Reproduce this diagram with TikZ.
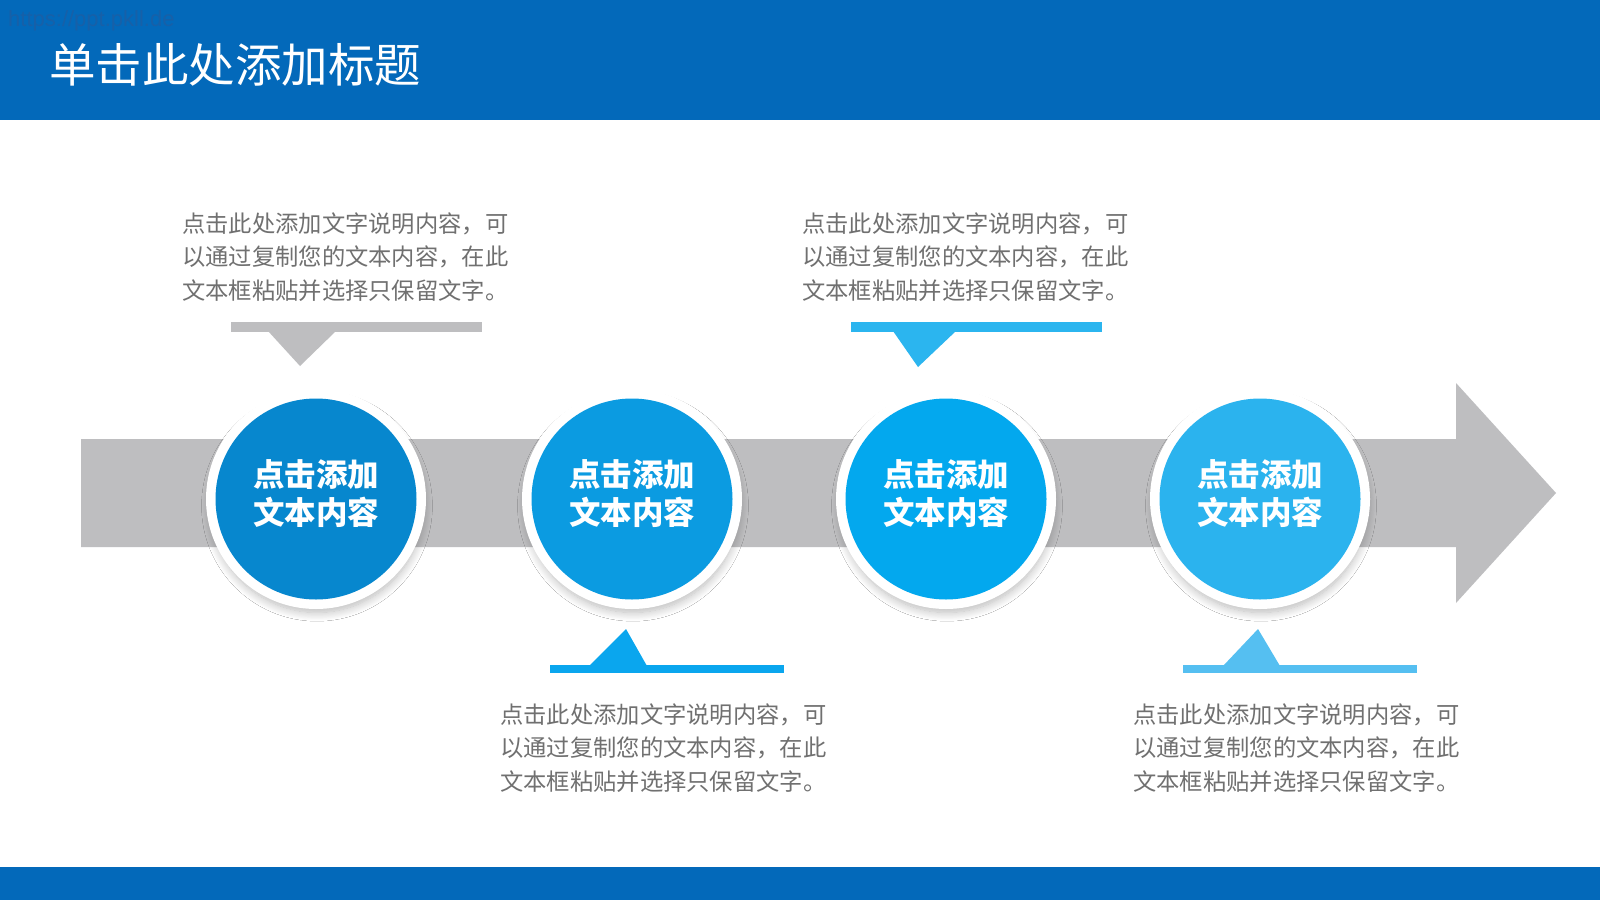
\documentclass[tikz,border=0pt]{standalone}
\usepackage{fontspec}
\setmainfont{Noto Sans CJK SC}
\newfontfamily\cjk{Noto Sans CJK SC}
\newfontfamily\latinsans{Liberation Sans}
\usetikzlibrary{shadows.blur}
\definecolor{headblue}{HTML}{0369BA}
\definecolor{markblue}{HTML}{1760A8}
\definecolor{arrowgray}{HTML}{BEBEC0}
\definecolor{barblueA}{HTML}{0AA6EE}
\definecolor{barblueB}{HTML}{2BB5EF}
\definecolor{barblueC}{HTML}{55BFF1}
\definecolor{discA}{HTML}{0787CE}
\definecolor{discB}{HTML}{0B9BE1}
\definecolor{discC}{HTML}{03A8EE}
\definecolor{discD}{HTML}{2BB3EE}
\definecolor{descgray}{HTML}{707070}
\tikzset{
  ring/.style={circle, minimum size=220pt, inner sep=0pt, fill=white,
    blur shadow={shadow xshift=1pt, shadow yshift=-7pt, shadow scale=0.97, shadow blur radius=9pt, shadow blur steps=12, shadow opacity=28}},
  disc/.style={circle, minimum size=201pt, inner sep=0pt},
  disctext/.style={font=\cjk\bfseries\fontsize{31.5}{38}\selectfont, text=white, align=center, inner sep=0pt},
  desc/.style={font=\cjk\fontsize{23.3}{33.7}\selectfont, text=descgray, align=left, inner sep=0pt, anchor=base west},
}
\begin{document}
\begin{tikzpicture}[x=1pt,y=-1pt]
\useasboundingbox (0,0) rectangle (1600,900);
\fill[white] (0,0) rectangle (1600,900);
% header and footer bands
\fill[headblue] (0,0) rectangle (1600,120);
\fill[headblue] (0,867) rectangle (1600,900);
\node[anchor=west, inner sep=0pt, text=markblue, font=\latinsans\fontsize{22}{26}\selectfont] (mark) at (8,21) {https://ppt.pkll.de};
\node[anchor=west, inner sep=0pt, text=white, font=\cjk\fontsize{46.5}{56}\selectfont] (title) at (49,65) {单击此处添加标题};
% gray arrow
\fill[arrowgray] (81,439) -- (1456,439) -- (1456,383) -- (1556,493) -- (1456,603) -- (1456,547) -- (81,547) -- cycle;
% callouts
\fill[arrowgray] (231,322) rectangle (482,332);
\fill[arrowgray] (268,331) -- (336,331) -- (300,366) -- cycle;
\fill[barblueB] (851,322) rectangle (1102,332);
\fill[barblueB] (893,331) -- (956,331) -- (918,367) -- cycle;
\fill[barblueA] (550,665) rectangle (784,673);
\fill[barblueA] (589,666) -- (647,666) -- (626,629) -- cycle;
\fill[barblueC] (1183,665) rectangle (1417,673);
\fill[barblueC] (1223,666) -- (1280,666) -- (1258,629) -- cycle;
% circles
\foreach \i/\x/\c in {1/316/discA, 2/632/discB, 3/946/discC, 4/1260/discD}{
  \node[ring] (ring\i) at (\x,499) {};
  \node[disc, fill=\c] (disc\i) at (ring\i) {};
  \node[disctext] (label\i) at (\x,494) {点击添加\\文本内容};
}
% descriptions (anchor is the baseline of the last line)
\node[desc] (note1) at (182,299.4) {点击此处添加文字说明内容，可\\以通过复制您的文本内容，在此\\文本框粘贴并选择只保留文字。};
\node[desc] (note3) at (802,299.4) {点击此处添加文字说明内容，可\\以通过复制您的文本内容，在此\\文本框粘贴并选择只保留文字。};
\node[desc] (note2) at (500,790.4) {点击此处添加文字说明内容，可\\以通过复制您的文本内容，在此\\文本框粘贴并选择只保留文字。};
\node[desc] (note4) at (1133,790.4) {点击此处添加文字说明内容，可\\以通过复制您的文本内容，在此\\文本框粘贴并选择只保留文字。};
\end{tikzpicture}
\end{document}
